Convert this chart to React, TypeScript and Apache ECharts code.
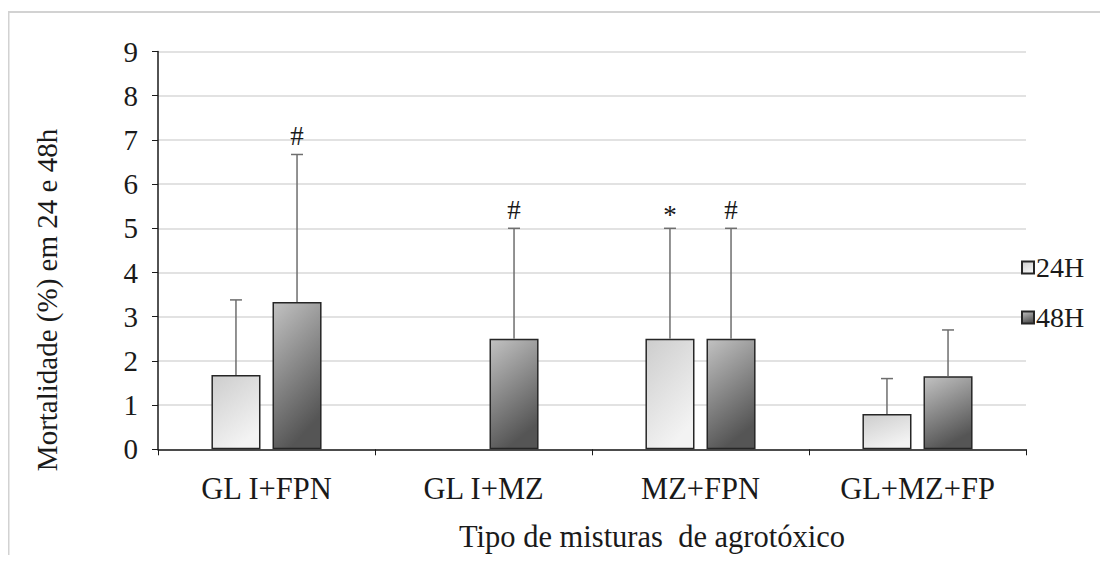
import React, { useEffect, useRef } from "react";
import * as echarts from "echarts";

const categories = ["GL I+FPN", "GL I+MZ", "MZ+FPN", "GL+MZ+FP"];
const seriesNames = ["24H", "48H"];
const mean24 = [1.68, 0, 2.5, 0.8];
const upper24 = [3.38, 0, 5.0, 1.6];
const mark24 = ["", "", "*", ""];
const mean48 = [3.33, 2.5, 2.5, 1.65];
const upper48 = [6.67, 5.0, 5.0, 2.7];
const mark48 = ["#", "#", "#", ""];
const yTicks = { min: 0, max: 9, interval: 1 };
const yAxisTitle = "Mortalidade (%) em 24 e 48h";
const xAxisTitle = "Tipo de misturas  de agrotóxico";

const FONT = "Liberation Serif, Times New Roman, serif";
const FS = 29;
const FSX = 30.5;
const BAR_FRAC = 0.226;
const GAP_FRAC = 0.245;

function errSeries(name: string, means: number[], uppers: number[], marks: string[], sign: number) {
  return {
    type: "custom",
    name,
    z: 5,
    silent: true,
    data: means.map((m, i) => [i, m, uppers[i]]),
    renderItem: (params: any, api: any) => {
      const idx = api.value(0);
      const m = api.value(1);
      const u = api.value(2);
      const band = api.size([1, 0])[0];
      const off = (sign * band * BAR_FRAC * (1 + GAP_FRAC)) / 2;
      const base = api.coord([idx, m]);
      const top = api.coord([idx, u]);
      const x = base[0] + off;
      const children: any[] = [];
      const stroke = { stroke: "#6e6e6e", lineWidth: 1.5 };
      if (u > m) {
        children.push({ type: "line", shape: { x1: x, y1: base[1], x2: x, y2: top[1] }, style: stroke });
        children.push({ type: "line", shape: { x1: x - 6, y1: top[1], x2: x + 6, y2: top[1] }, style: stroke });
      }
      const mk = marks[params.dataIndex];
      if (mk) {
        children.push({
          type: "text",
          style: {
            text: mk,
            x,
            y: top[1] - (mk === "*" ? 0 : 5),
            align: "center",
            verticalAlign: "bottom",
            fontFamily: FONT,
            fontSize: 27,
            fill: "#1a1a1a",
          },
        });
      }
      return { type: "group", children };
    },
  };
}

function barData(values: number[]) {
  return values.map((v) => (v === 0 ? { value: v, itemStyle: { borderWidth: 0 } } : v));
}

export default function App() {
  const ref = useRef<HTMLDivElement>(null);
  useEffect(() => {
    if (!ref.current) return;
    const chart = echarts.init(ref.current, undefined, { renderer: "svg" });
    const grad24 = new echarts.graphic.LinearGradient(0, 0, 0.5, 1, [
      { offset: 0, color: "#cdcdcd" },
      { offset: 1, color: "#f3f3f3" },
    ]);
    const grad48 = new echarts.graphic.LinearGradient(0, 0, 0.35, 1, [
      { offset: 0, color: "#c2c2c2" },
      { offset: 1, color: "#555555" },
    ]);
    chart.setOption({
      animation: false,
      backgroundColor: "#ffffff",
      textStyle: { fontFamily: FONT, color: "#1a1a1a" },
      grid: { left: 150, right: 82, top: 43.5, bottom: 105.7, containLabel: false },
      legend: {
        data: seriesNames,
        orient: "vertical",
        left: 1008,
        top: 239,
        itemWidth: 12,
        itemHeight: 12,
        itemGap: 19,
        icon: "rect",
        textStyle: { fontFamily: FONT, fontSize: 28, color: "#1a1a1a", lineHeight: 31, padding: [0, 0, 0, -3] },
      },
      xAxis: {
        type: "category",
        data: categories,
        boundaryGap: true,
        axisLine: { lineStyle: { color: "#1a1a1a", width: 1.5 } },
        axisTick: { show: true, length: 6, lineStyle: { color: "#1a1a1a" } },
        axisLabel: { fontFamily: FONT, fontSize: FSX, color: "#1a1a1a", margin: 24 },
        splitLine: { show: false },
      },
      yAxis: {
        type: "value",
        min: yTicks.min,
        max: yTicks.max,
        interval: yTicks.interval,
        axisLine: { show: true, lineStyle: { color: "#1a1a1a", width: 1.5 } },
        axisTick: { show: true, length: 6, lineStyle: { color: "#1a1a1a" } },
        axisLabel: { fontFamily: FONT, fontSize: FS, color: "#1a1a1a", margin: 20 },
        splitLine: { show: true, lineStyle: { color: "#d9d9d9", width: 1.5 } },
      },
      series: [
        {
          type: "bar",
          name: seriesNames[0],
          data: barData(mean24),
          barWidth: `${BAR_FRAC * 100}%`,
          barGap: `${GAP_FRAC * 100}%`,
          itemStyle: { color: grad24, borderColor: "#262626", borderWidth: 1.5 },
        },
        {
          type: "bar",
          name: seriesNames[1],
          data: barData(mean48),
          barWidth: `${BAR_FRAC * 100}%`,
          barGap: `${GAP_FRAC * 100}%`,
          itemStyle: { color: grad48, borderColor: "#262626", borderWidth: 1.5 },
        },
        errSeries("err24", mean24, upper24, mark24, -1),
        errSeries("err48", mean48, upper48, mark48, 1),
      ],
      graphic: [
        {
          type: "rect",
          silent: true,
          shape: { x: 0.5, y: 4, width: 1300, height: 800 },
          style: { fill: "none", stroke: "#d2d2d2", lineWidth: 2 },
        },
        {
          type: "text",
          x: 39,
          y: 292,
          rotation: Math.PI / 2,
          style: {
            text: yAxisTitle,
            fontFamily: FONT,
            fontSize: FS,
            fill: "#1a1a1a",
            align: "center",
            verticalAlign: "middle",
          },
        },
        {
          type: "text",
          x: 644,
          y: 529,
          style: {
            text: xAxisTitle,
            fontFamily: FONT,
            fontSize: FSX,
            fill: "#1a1a1a",
            align: "center",
            verticalAlign: "middle",
          },
        },
      ],
    });
    return () => chart.dispose();
  }, []);
  return <div ref={ref} style={{ width: 1100, height: 547 }} />;
}
